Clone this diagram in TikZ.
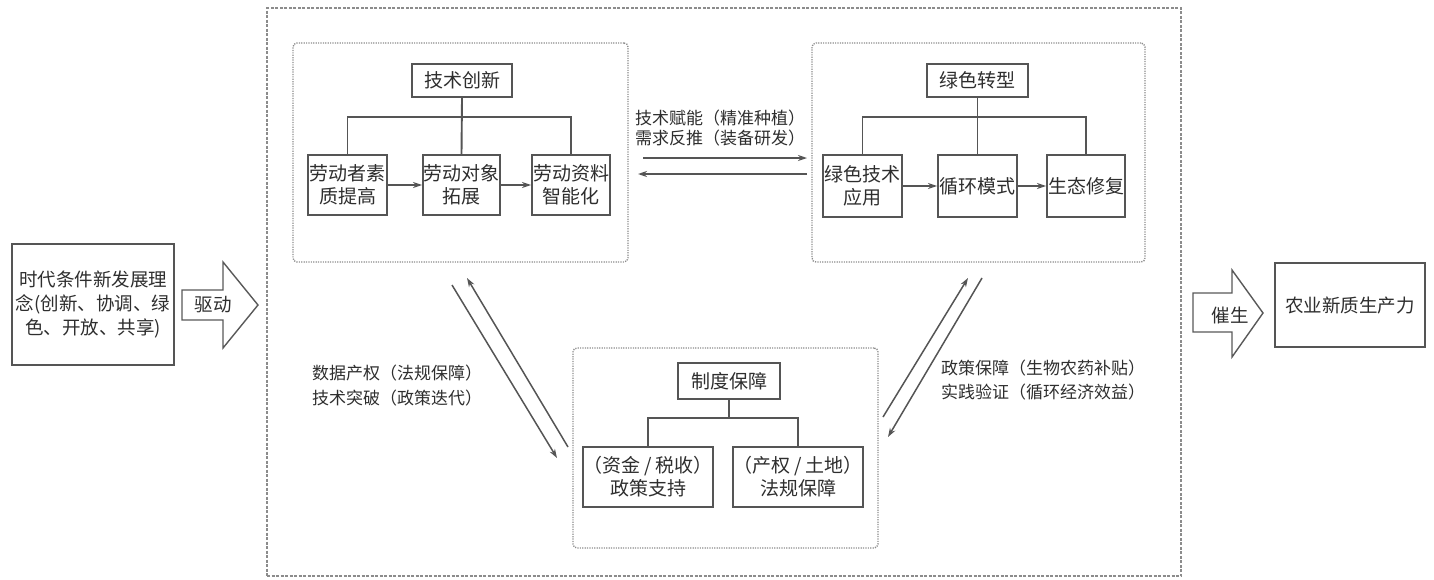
\documentclass[tikz,border=0pt]{standalone}
\usepackage{fontspec}
\setmainfont{Noto Sans CJK SC}
\usetikzlibrary{arrows.meta,calc}
\definecolor{boxline}{HTML}{555555}
\definecolor{txt}{HTML}{2E2E2E}
\definecolor{dotline}{HTML}{8C8C8C}
\tikzset{
  every node/.style={text=txt},
  box/.style={draw=boxline, line width=1.9pt, fill=white, align=center, inner sep=0pt,
    font=\fontsize{19}{23}\selectfont},
  holder/.style={draw=dotline, line width=1.4pt, dash pattern=on 1.2pt off 1.2pt, rounded corners=4pt, inner sep=0pt},
  outerbox/.style={draw=dotline, line width=1.4pt, dash pattern=on 3pt off 1.5pt, inner sep=0pt},
  link/.style={draw=boxline, line width=1.9pt},
  flow/.style={draw=boxline, line width=1.5pt, -{Stealth[length=9pt,width=6pt]}},
  lbl/.style={align=center, font=\fontsize{17}{20}\selectfont, inner sep=0pt},
  bigarrow/.style={draw=gray!70!black, line width=1.4pt, fill=white},
}
\begin{document}
\begin{tikzpicture}[x=1pt,y=-1pt]
\useasboundingbox (0,0) rectangle (1434,579);

% outer dashed frame
\node[outerbox, minimum width=914pt, minimum height=568pt] (outer) at (724,292) {};

% left source box
\node[box, minimum width=162pt, minimum height=121pt, line width=1.5pt, font=\fontsize{18.5}{24}\selectfont] (src) at (93,304.5)
  {时代条件新发展理\\念(创新、协调、绿\\色、开放、共享)};
% right result box
\node[box, minimum width=150pt, minimum height=84pt, line width=1.5pt, font=\fontsize{18.5}{22}\selectfont] (res) at (1350,305) {农业新质生产力};

% block arrow drive
\draw[bigarrow] (182,290) -- (223,290) -- (223,262) -- (258,305) -- (223,348) -- (223,320) -- (182,320) -- cycle;
\node[lbl, font=\fontsize{18.5}{20}\selectfont] (drive) at (213,305) {驱动};
% block arrow catalyse
\draw[bigarrow] (1193,293) -- (1232,293) -- (1232,270) -- (1263,313) -- (1232,357) -- (1232,332) -- (1193,332) -- cycle;
\node[lbl, font=\fontsize{18.5}{20}\selectfont] (cata) at (1230,315) {催生};

% ===== top-left container =====
\node[holder, minimum width=335pt, minimum height=219pt] (tl) at (460.5,152.5) {};
\node[box, minimum width=100pt, minimum height=33pt] (tech) at (462,80.5) {技术创新};
\node[box, minimum width=79pt, minimum height=60pt] (a1) at (347.5,185) {劳动者素\\质提高};
\node[box, minimum width=77pt, minimum height=60pt] (a2) at (461.5,185) {劳动对象\\拓展};
\node[box, minimum width=78pt, minimum height=60pt] (a3) at (571,185) {劳动资料\\智能化};
\draw[link] (tech.south) -- (a2.north);
\draw[link] (a1.north) |- (462,117) -| (a3.north);
\draw[flow] (a1.east) -- (a2.west);
\draw[flow] (a2.east) -- (a3.west);

% ===== top-right container =====
\node[holder, minimum width=333pt, minimum height=219pt] (tr) at (978.5,152.5) {};
\node[box, minimum width=101pt, minimum height=33pt] (green) at (977.5,80.5) {绿色转型};
\node[box, minimum width=79pt, minimum height=62pt] (b1) at (862.5,186) {绿色技术\\应用};
\node[box, minimum width=79pt, minimum height=62pt] (b2) at (977.5,186) {循环模式};
\node[box, minimum width=78pt, minimum height=62pt] (b3) at (1086,186) {生态修复};
\draw[link] (green.south) -- (b2.north);
\draw[link] (b1.north) |- (977.5,117) -| (b3.north);
\draw[flow] (b1.east) -- (b2.west);
\draw[flow] (b2.east) -- (b3.west);

% ===== bottom container =====
\node[holder, minimum width=305pt, minimum height=200pt] (bt) at (725.5,448) {};
\node[box, minimum width=102pt, minimum height=36pt] (inst) at (729,381) {制度保障};
\node[box, minimum width=120pt, minimum height=60pt] (c1) at (648,477) {（资金 / 税收）\\政策支持};
\node[box, minimum width=120pt, minimum height=60pt] (c2) at (798,477) {（产权 / 土地）\\法规保障};
\draw[link] (inst.south) -- (729,418);
\draw[link] (c1.north) |- (729,418) -| (c2.north);

% ===== links between containers =====
\coordinate (h1s) at (643,158);
\coordinate (h1e) at (807,158);
\coordinate (h2s) at (807,174);
\coordinate (h2e) at (638,174);
\draw[flow] (h1s) -- (h1e);
\draw[flow] (h2s) -- (h2e);
\node[lbl] (hl) at (720,128) {技术赋能（精准种植）\\需求反推（装备研发）};

\coordinate (l1s) at (452,285);
\coordinate (l1e) at (557,458);
\coordinate (l2s) at (568,447);
\coordinate (l2e) at (467,278);
\draw[flow] (l1s) -- (l1e);
\draw[flow] (l2s) -- (l2e);
\node[lbl, font=\fontsize{17}{25}\selectfont] (ll) at (397,386) {数据产权（法规保障）\\技术突破（政策迭代）};

\coordinate (r1s) at (883,417);
\coordinate (r1e) at (968,278);
\coordinate (r2s) at (982,278);
\coordinate (r2e) at (888,437);
\draw[flow] (r1s) -- (r1e);
\draw[flow] (r2s) -- (r2e);
\node[lbl, font=\fontsize{17}{24}\selectfont] (rl) at (1043,380) {政策保障（生物农药补贴）\\实践验证（循环经济效益）};
\end{tikzpicture}
\end{document}
